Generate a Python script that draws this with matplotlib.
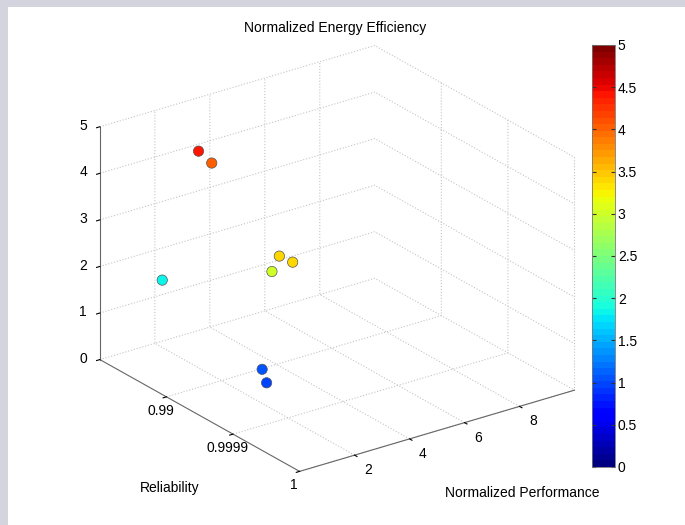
import numpy as np
import matplotlib.pyplot as plt
from matplotlib.patches import Rectangle
from mpl_toolkits.mplot3d import proj3d

plt.rcParams['font.family'] = ['Liberation Sans', 'DejaVu Sans']
plt.rcParams['font.size'] = 10

# normalized performance, reliability (axis position), normalized energy efficiency
performance = [2.5, 3.1, 1.3, 2.0, 2.0, 1.9, 1.35, 1.1]
reliability_pos = [2.55, 2.6, 2.6, 1.13, 0.93, 1.2, 1.12, 0.95]
efficiency = [4.4, 4.0, 1.8, 3.37, 3.4, 3.0, 1.06, 0.95]

rel_ticks = [0, 1, 2]
rel_labels = ['1', '0.9999', '0.99']
perf_ticks = [2, 4, 6, 8]
eff_ticks = [0, 1, 2, 3, 4, 5]
cbar_ticks = [0, 0.5, 1, 1.5, 2, 2.5, 3, 3.5, 4, 4.5, 5]

fig = plt.figure(figsize=(6.85, 5.25), dpi=100, facecolor='#d3d4de')
fig.patches.append(Rectangle((8 / 685, 0), 1, 1 - 7 / 525, transform=fig.transFigure,
                             facecolor='white', edgecolor='none', zorder=-1))

ax = fig.add_axes([0.0575, 0.025, 0.85, 0.94], projection='3d')
ax.set_proj_type('ortho')
ax.view_init(elev=24, azim=-126)
ax.set_box_aspect((1, 1, 0.75), zoom=1.07)
ax.patch.set_alpha(0)

cmap = plt.get_cmap('jet', 64)
sc = ax.scatter(performance, reliability_pos, efficiency, c=efficiency, cmap=cmap,
                vmin=0, vmax=5, s=55, edgecolors='#555555', linewidths=0.5,
                depthshade=False, alpha=1)

ax.set_xlim(0, 10)
ax.set_ylim(0, 3)
ax.set_zlim(0, 5)
ax.set_xticks(perf_ticks)
ax.set_yticks(rel_ticks)
ax.set_yticklabels(rel_labels)
ax.set_zticks(eff_ticks)

for axis in (ax.xaxis, ax.yaxis, ax.zaxis):
    axis.set_pane_color((1, 1, 1, 0))
    axis.pane.set_edgecolor('none')
    axis.line.set_color('#666666')
    axis.line.set_linewidth(0.8)
    axis._axinfo['grid'].update(color='#c4c4c4', linestyle=':', linewidth=0.8)
    axis._axinfo['tick'].update(inward_factor=0.15, outward_factor=0.0)

ax.tick_params(axis='x', labelbottom=False, labeltop=False)
ax.tick_params(axis='y', pad=-4)
ax.tick_params(axis='z', pad=-3)
for t in ax.zaxis.get_major_ticks():
    t.label1.set_va('center')
    t.label1.set_ha('right')

# performance tick labels sit in front of the x axis, offset toward the viewer
fig.canvas.draw()
for t in perf_ticks:
    px, py, _ = proj3d.proj_transform(t, -0.2, -0.16, ax.get_proj())
    ax.text2D(px, py, str(t), transform=ax.transData, ha='center', va='center')

fig.text(335 / 685, 1 - 28 / 525, 'Normalized Energy Efficiency', ha='center', va='center')
fig.text(170 / 685, 1 - 488 / 525, 'Reliability', ha='center', va='center')
fig.text(522 / 685, 1 - 493 / 525, 'Normalized Performance', ha='center', va='center')

cax = fig.add_axes([592 / 685, 58 / 525, 23 / 685, 422 / 525])
cb = fig.colorbar(sc, cax=cax, ticks=cbar_ticks)
cb.ax.set_yticklabels(['0', '0.5', '1', '1.5', '2', '2.5', '3', '3.5', '4', '4.5', '5'])
cb.ax.tick_params(direction='in', left=True, right=True, length=3, color='#333333', pad=2)
cb.outline.set_edgecolor('#777777')
cb.outline.set_linewidth(0.6)

fig.savefig('out.png', dpi=100, facecolor=fig.get_facecolor())
